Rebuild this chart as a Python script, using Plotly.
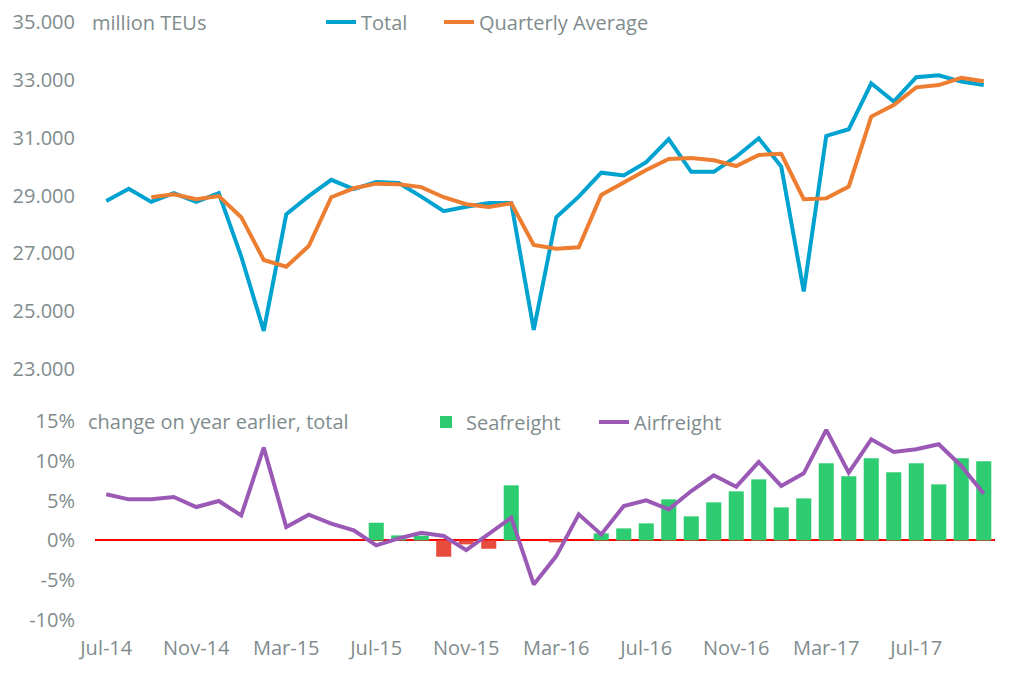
import plotly.graph_objects as go

months = ["Jul-14","Aug-14","Sep-14","Oct-14","Nov-14","Dec-14","Jan-15","Feb-15","Mar-15","Apr-15",
          "May-15","Jun-15","Jul-15","Aug-15","Sep-15","Oct-15","Nov-15","Dec-15","Jan-16","Feb-16",
          "Mar-16","Apr-16","May-16","Jun-16","Jul-16","Aug-16","Sep-16","Oct-16","Nov-16","Dec-16",
          "Jan-17","Feb-17","Mar-17","Apr-17","May-17","Jun-17","Jul-17","Aug-17","Sep-17","Oct-17"]

total = [28.81, 29.23, 28.78, 29.08, 28.78, 29.08, 26.89, 24.32, 28.35, 28.98,
         29.54, 29.22, 29.47, 29.43, 28.96, 28.46, 28.61, 28.74, 28.74, 24.35,
         28.25, 28.96, 29.79, 29.69, 30.15, 30.95, 29.82, 29.82, 30.34, 30.98,
         30.00, 25.68, 31.06, 31.29, 32.88, 32.25, 33.09, 33.16, 32.94, 32.82]

quarterly_avg = [None, None, 28.94, 29.04, 28.87, 28.98, 28.25, 26.77, 26.54, 27.25,
                 28.94, 29.25, 29.41, 29.39, 29.29, 28.94, 28.70, 28.60, 28.73, 27.29,
                 27.16, 27.21, 29.02, 29.44, 29.88, 30.26, 30.30, 30.22, 30.02, 30.40,
                 30.44, 28.87, 28.90, 29.31, 31.73, 32.13, 32.74, 32.82, 33.07, 32.95]

seafreight = [None, None, None, None, None, None, None, None, None, None,
              None, None, 2.22, 0.63, 0.60, -2.05, -0.50, -1.05, 6.92, 0.0,
              -0.25, 0.0, 0.88, 1.51, 2.14, 5.16, 3.02, 4.78, 6.16, 7.67,
              4.15, 5.28, 9.69, 8.05, 10.31, 8.55, 9.69, 7.04, 10.31, 9.94]

airfreight = [5.79, 5.16, 5.16, 5.45, 4.19, 4.95, 3.14, 11.66, 1.68, 3.23,
              2.10, 1.26, -0.63, 0.25, 0.96, 0.55, -1.22, 0.88, 2.85, -5.53,
              -1.97, 3.27, 0.75, 4.32, 5.03, 3.90, 6.20, 8.18, 6.75, 9.85,
              6.84, 8.43, 13.88, 8.51, 12.70, 11.11, 11.45, 12.08, 9.35, 5.87]

top_ticks = [23, 25, 27, 29, 31, 33, 35]
bottom_ticks = [-10, -5, 0, 5, 10, 15]
bottom_ticktext = ["-10%", "-5%", "0%", "5%", "10%", "15%"]
x_ticks = months[::4]

GREY = "#7f8c8d"
FONT = "Open Sans"
FS = 20
GREEN = "#2ecc71"
RED = "#e74c3c"

bar_colors = [GREEN if (v is None or v >= 0) else RED for v in seafreight]

fig = go.Figure()
fig.add_trace(go.Scatter(x=months, y=total, name="Total", mode="lines",
                         line=dict(color="#00a2d0", width=4), xaxis="x", yaxis="y",
                         legend="legend", showlegend=True))
fig.add_trace(go.Scatter(x=months, y=quarterly_avg, name="Quarterly Average", mode="lines",
                         line=dict(color="#ed7d31", width=4), xaxis="x", yaxis="y",
                         legend="legend2", showlegend=True))
fig.add_trace(go.Bar(x=months, y=seafreight, name="Seafreight",
                     marker=dict(color=bar_colors, line=dict(width=0)),
                     xaxis="x2", yaxis="y2", legend="legend3", showlegend=True))
fig.add_trace(go.Scatter(x=months, y=airfreight, name="Airfreight", mode="lines",
                         line=dict(color="#9b59b6", width=4), xaxis="x2", yaxis="y2",
                         legend="legend4", showlegend=True))

# page body has an 8px margin; work in reference-pixel coordinates shifted by it
OFF = 8
W, H = 1013 - 2 * OFF, 678 - 2 * OFF

def fx(pix):
    return (pix - OFF) / W

def fy(pix):
    return 1 - (pix - OFF) / H

def leg(text_left, yc):
    return dict(orientation="h", x=fx(text_left - 41), xanchor="left", y=fy(yc),
                yanchor="middle", bgcolor="rgba(0,0,0,0)",
                font=dict(family=FONT, size=FS, color=GREY), itemwidth=30)

fig.update_layout(
    width=W, height=H,
    showlegend=True,
    margin=dict(l=0, r=0, t=0, b=0, autoexpand=False),
    paper_bgcolor="white", plot_bgcolor="white",
    font=dict(family=FONT, size=FS, color=GREY),
    bargap=0.33,
    xaxis=dict(domain=[fx(95), fx(995)], anchor="y", type="category", categoryorder="array",
               categoryarray=months, range=[-0.5, 39.5], showticklabels=False,
               showgrid=False, showline=False, zeroline=False, ticks="", automargin=False),
    yaxis=dict(domain=[fy(369), fy(22)], anchor="x", range=[23, 35], tickvals=top_ticks,
               tickformat=".3f", showgrid=False, showline=False, zeroline=False,
               ticks="", ticklabelstandoff=19, automargin=False),
    xaxis2=dict(domain=[fx(95), fx(995)], anchor="y2", type="category", categoryorder="array",
                categoryarray=months, range=[-0.5, 39.5], tickvals=x_ticks,
                showgrid=False, showline=False, zeroline=False, ticks="",
                ticklabelstandoff=14, automargin=False),
    yaxis2=dict(domain=[fy(620), fy(421)], anchor="x2", range=[-10, 15], tickvals=bottom_ticks,
                ticktext=bottom_ticktext, showgrid=False, showline=False,
                zeroline=True, zerolinecolor="#ff0000", zerolinewidth=2,
                ticks="", ticklabelstandoff=19, automargin=False),
    legend=leg(362, 22),
    legend2=leg(480, 22),
    legend3=leg(467, 422),
    legend4=leg(635, 422),
    annotations=[
        dict(text="million TEUs", xref="paper", yref="paper", x=fx(90), y=fy(22),
             xanchor="left", yanchor="middle", showarrow=False,
             font=dict(family=FONT, size=FS, color=GREY)),
        dict(text="change on year earlier, total", xref="paper", yref="paper",
             x=fx(86), y=fy(421), xanchor="left", yanchor="middle", showarrow=False,
             font=dict(family=FONT, size=FS, color=GREY)),
    ],
)

fig.write_html("out.html")
